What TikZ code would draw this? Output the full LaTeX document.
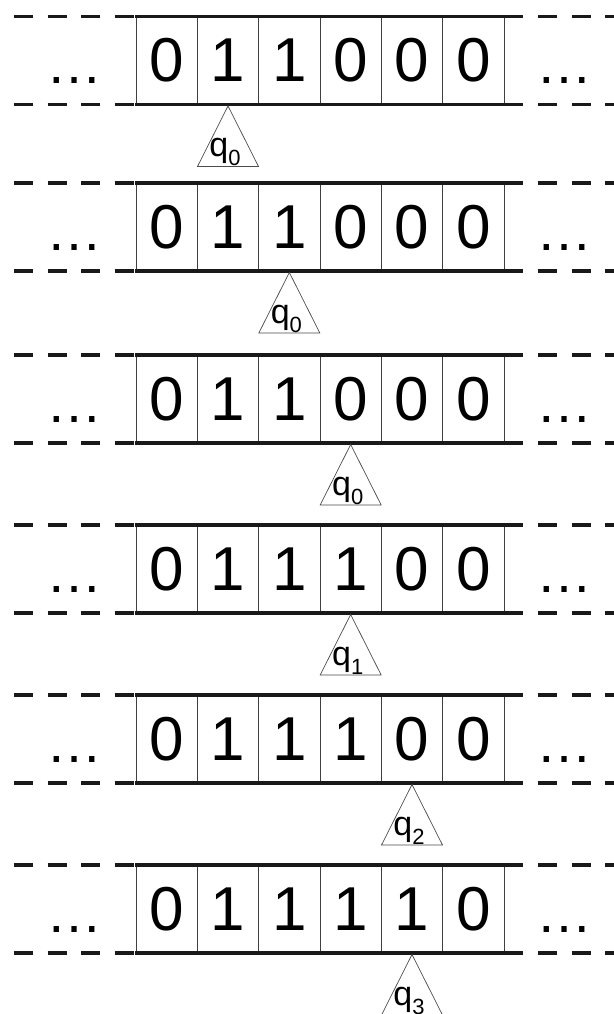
\documentclass[tikz,border=0pt]{standalone}
\usepackage{fontspec}
\setmainfont{Liberation Sans}
\begin{document}
\begin{tikzpicture}[x=1pt,y=-1pt,
  cell/.style={draw=black!75,line width=0.9pt,minimum width=61.33pt,minimum height=88pt,inner sep=0pt,font=\fontsize{62}{62}\selectfont},
  tapeline/.style={line width=3.3pt,black!90},
  dashline/.style={line width=3.3pt,black!90,dash pattern=on 19pt off 14.5pt},
  dots/.style={anchor=base,inner sep=0pt,font=\fontsize{56}{56}\selectfont},
  head/.style={draw=black!70,line width=0.7pt,fill=white},
  hlabel/.style={anchor=base,inner sep=0pt,font=\fontsize{34}{34}\selectfont}]
\useasboundingbox (0,0) rectangle (613,1014);
\foreach \r/\top/\da/\db/\dc/\dd/\de/\df/\h/\q in {
  1/16.5/0/1/1/0/0/0/1/0,
  2/183/0/1/1/0/0/0/2/0,
  3/355/0/1/1/0/0/0/3/0,
  4/525/0/1/1/1/0/0/3/1,
  5/695/0/1/1/1/0/0/4/2,
  6/865/0/1/1/1/1/0/4/3}{
  \pgfmathsetmacro{\cy}{\top+44}
  \pgfmathsetmacro{\by}{\top+88}
  \pgfmathsetmacro{\dy}{\top+67}
  \foreach \k/\d in {0/\da,1/\db,2/\dc,3/\dd,4/\de,5/\df}{
    \pgfmathsetmacro{\cx}{136+61.333*(\k+0.5)}
    \node[cell] (c\r-\k) at (\cx,\cy) {\d};
  }
  % tape border lines
  \coordinate (tl\r) at (135,\top);
  \coordinate (tr\r) at (523,\top);
  \coordinate (bl\r) at (135,\by);
  \coordinate (br\r) at (523,\by);
  \draw[tapeline] (tl\r) -- (tr\r);
  \draw[tapeline] (bl\r) -- (br\r);
  % dashed continuations
  \coordinate (dtl\r) at (14,\top);
  \coordinate (dbl\r) at (14,\by);
  \coordinate (dtr\r) at (538,\top);
  \coordinate (dbr\r) at (538,\by);
  \coordinate (etr\r) at (640,\top);
  \coordinate (ebr\r) at (640,\by);
  \draw[dashline] (dtl\r) -- (tl\r);
  \draw[dashline] (dbl\r) -- (bl\r);
  \draw[dashline] (dtr\r) -- (etr\r);
  \draw[dashline] (dbr\r) -- (ebr\r);
  % ellipses
  \node[dots] (ld\r) at (74,\dy) {…};
  \node[dots] (rd\r) at (564,\dy) {…};
  % head
  \pgfmathsetmacro{\hx}{136+61.333*(\h+0.5)}
  \pgfmathsetmacro{\ay}{\by+1.5}
  \pgfmathsetmacro{\hy}{\by+62}
  \pgfmathsetmacro{\ly}{\hy-10}
  \coordinate (apex\r) at (\hx,\ay);
  \draw[head] (apex\r) -- ++(-30.5,60.5) -- ++(61,0) -- cycle;
  \node[hlabel] (q\r) at (\hx-3,\ly) {q\raisebox{-9pt}{\fontsize{22}{22}\selectfont\q}};
}
\end{tikzpicture}
\end{document}
